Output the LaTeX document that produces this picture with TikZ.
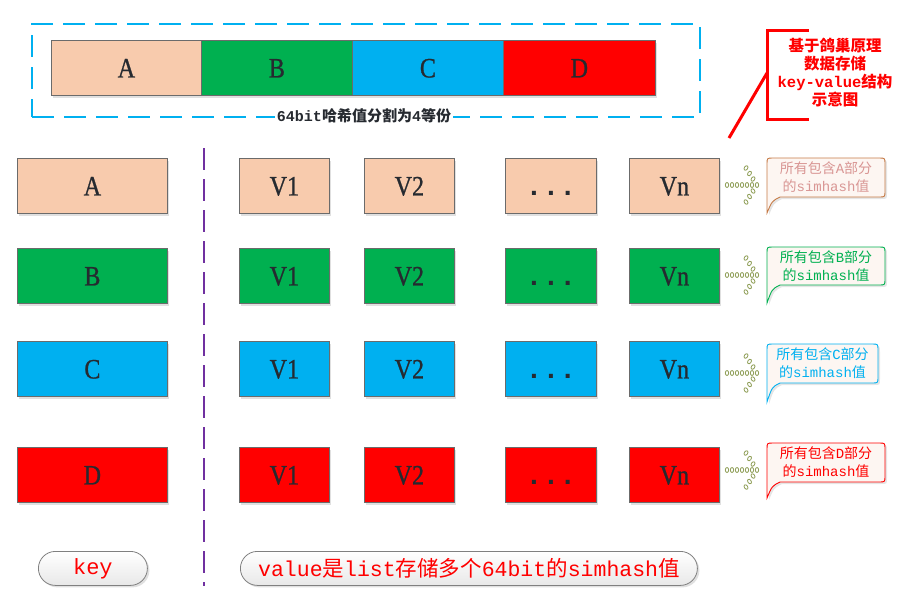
\documentclass[tikz,border=0pt]{standalone}
\usepackage{fontspec}
\setmainfont{Liberation Serif}
\setmonofont{Liberation Mono}
\newfontfamily\cjk{Noto Sans CJK SC}
\newfontfamily\boxfont{Liberation Serif}[FakeStretch=0.86, FakeBold=0.8]
\usetikzlibrary{shadows}
\definecolor{cA}{HTML}{F8CBAD}
\definecolor{cB}{HTML}{00B050}
\definecolor{cC}{HTML}{00B0F0}
\definecolor{cD}{HTML}{FF0000}
\definecolor{edge}{HTML}{6B6B6B}
\definecolor{ink}{HTML}{262A30}
\definecolor{purp}{HTML}{7030A0}
\definecolor{bubfill}{HTML}{FDF6F2}
\definecolor{bubAedge}{RGB}{197,122,70}
\definecolor{bubAtext}{RGB}{217,150,148}
\definecolor{olivedot}{RGB}{145,160,90}
\newcommand\zh[1]{{\cjk #1}}
\newcommand\dotarrow[1]{%
  \foreach \i in {0,...,5} {\draw[dotell] (727+5*\i,#1) ellipse (1.7pt and 2.5pt);}
  \foreach \px/\py/\rr in {746/-17/-35,749.5/-11.5/-35,753/-6/-35,757/0/0,753/6/35,749.5/11.5/35,746/17/35}
    {\draw[dotell,shift={(\px,#1+\py)},rotate=\rr] (0,0) ellipse (1.7pt and 2.5pt);}
}
\newcommand\bubble[8]{% name, top, bottom, tip, right, edge colour, text colour, text
  \draw[bubshape, draw=#6] (767,#4) -- (767,#2+6) .. controls (767,#2) .. (773,#2)
     -- (#5-6,#2) .. controls (#5,#2) .. (#5,#2+6) -- (#5,#3-6) .. controls (#5,#3) .. (#5-6,#3)
     -- (780,#3) .. controls (772,#3+4) .. (767,#4) -- cycle;
  \node[bubtext, text=#7] (#1) at ({(767+#5)/2},{(#2+#3)/2}) {#8};
}
\begin{document}
\begin{tikzpicture}[x=1pt,y=-1pt,
  cell/.style={draw=edge, line width=0.8pt, anchor=north west, inner sep=0pt, text=ink,
    font=\boxfont\fontsize{28}{28}\selectfont, text height=19pt, text depth=0pt,
    minimum height=55pt,
    drop shadow={shadow xshift=2pt, shadow yshift=-2.5pt, fill=black!12, opacity=1}},
  keycell/.style={cell, minimum width=150pt},
  valcell/.style={cell, minimum width=90pt},
  dotcell/.style={cell, minimum width=91pt, font=\ttfamily\bfseries\fontsize{28}{28}\selectfont},
  dotell/.style={draw=olivedot, line width=0.8pt, fill=white},
  bubshape/.style={line width=0.9pt, fill=bubfill,
    drop shadow={shadow xshift=2pt, shadow yshift=-2pt, fill=black!10, opacity=1}},
  bubtext/.style={align=center, inner sep=0pt, font=\ttfamily\fontsize{14}{18}\selectfont},
  pill/.style={draw=black!50, line width=0.8pt, rounded corners=17pt, top color=white,
    bottom color=black!9, minimum height=34pt, anchor=north west, text=red,
    font=\ttfamily\fontsize{21.5}{22}\selectfont,
    drop shadow={shadow xshift=2pt, shadow yshift=-2pt, fill=black!12, opacity=1}},
  divider/.style={draw=purp, line width=2pt, dash pattern=on 22pt off 9pt},
  frame/.style={draw=cC, line width=2pt, dash pattern=on 22pt off 10pt, anchor=north west,
    minimum width=668pt, minimum height=93pt, inner sep=0pt}
]
\useasboundingbox (0,0) rectangle (913,606);

% top dashed frame and split hash
\node[frame] (frame) at (31,23) {};
\node[cell, minimum width=150pt, fill=cA] (tA) at (51,40) {A};
\node[cell, minimum width=151pt, fill=cB] (tB) at (201,40) {B};
\node[cell, minimum width=151pt, fill=cC] (tC) at (352,40) {C};
\node[cell, minimum width=152pt, fill=cD] (tD) at (503,40) {D};
\node[fill=white, inner sep=2pt, text=ink, font=\ttfamily\bfseries\fontsize{15}{15}\selectfont]
  (split) at (364,116) {64bit\zh{\bfseries 哈希值分割为}4\zh{\bfseries 等份}};

% red note
\coordinate (nTop) at (809,30);
\coordinate (nTL) at (767,30);
\coordinate (nBL) at (767,119);
\coordinate (nBot) at (809,119);
\coordinate (nJoin) at (767,73);
\coordinate (nTail) at (729,138);
\draw[red, line width=3pt] (nTop) -- (nTL) -- (nBL) -- (nBot);
\draw[red, line width=3pt] (nTail) -- (nJoin);
\node[align=center, text=red, inner sep=0pt, font=\ttfamily\bfseries\fontsize{15.5}{18}\selectfont]
  (note) at (835,73) {\zh{\bfseries 基于鸽巢原理}\\\zh{\bfseries 数据存储}\\key-value\zh{\bfseries 结构}\\\zh{\bfseries 示意图}};

% divider
\coordinate (divTop) at (204,148);
\coordinate (divBot) at (204,586);
\draw[divider] (divTop) -- (divBot);

% rows
\foreach \r/\col/\y in {A/cA/158, B/cB/248, C/cC/341, D/cD/447} {
  \node[keycell, fill=\col] (k\r) at (17,\y) {\r};
  \node[valcell, fill=\col] (v1\r) at (239,\y) {V1};
  \node[valcell, fill=\col] (v2\r) at (364,\y) {V2};
  \node[dotcell, fill=\col] (vd\r) at (505,\y) {...\hspace{9pt}};
  \node[valcell, fill=\col] (vn\r) at (629,\y) {Vn};
}

% dotted arrows
\dotarrow{185}
\dotarrow{275}
\dotarrow{373}
\dotarrow{470}

% callouts
\bubble{bA}{158}{197}{213}{885}{bubAedge}{bubAtext}{\zh{所有包含}A\zh{部分}\\\zh{的}simhash\zh{值}}
\bubble{bB}{247}{285}{303}{885}{cB}{cB}{\zh{所有包含}B\zh{部分}\\\zh{的}simhash\zh{值}}
\bubble{bC}{344}{383}{402}{878}{cC}{cC}{\zh{所有包含}C\zh{部分}\\\zh{的}simhash\zh{值}}
\bubble{bD}{443}{482}{498}{885}{cD}{cD}{\zh{所有包含}D\zh{部分}\\\zh{的}simhash\zh{值}}

% bottom pills
\node[pill, minimum width=109pt, font=\ttfamily\fontsize{22}{22}\selectfont] (key) at (38,551) {key};
\node[pill, minimum width=457pt] (val) at (240,551) {value\zh{是}list\zh{存储多个}64bit\zh{的}simhash\zh{值}};
\end{tikzpicture}
\end{document}
